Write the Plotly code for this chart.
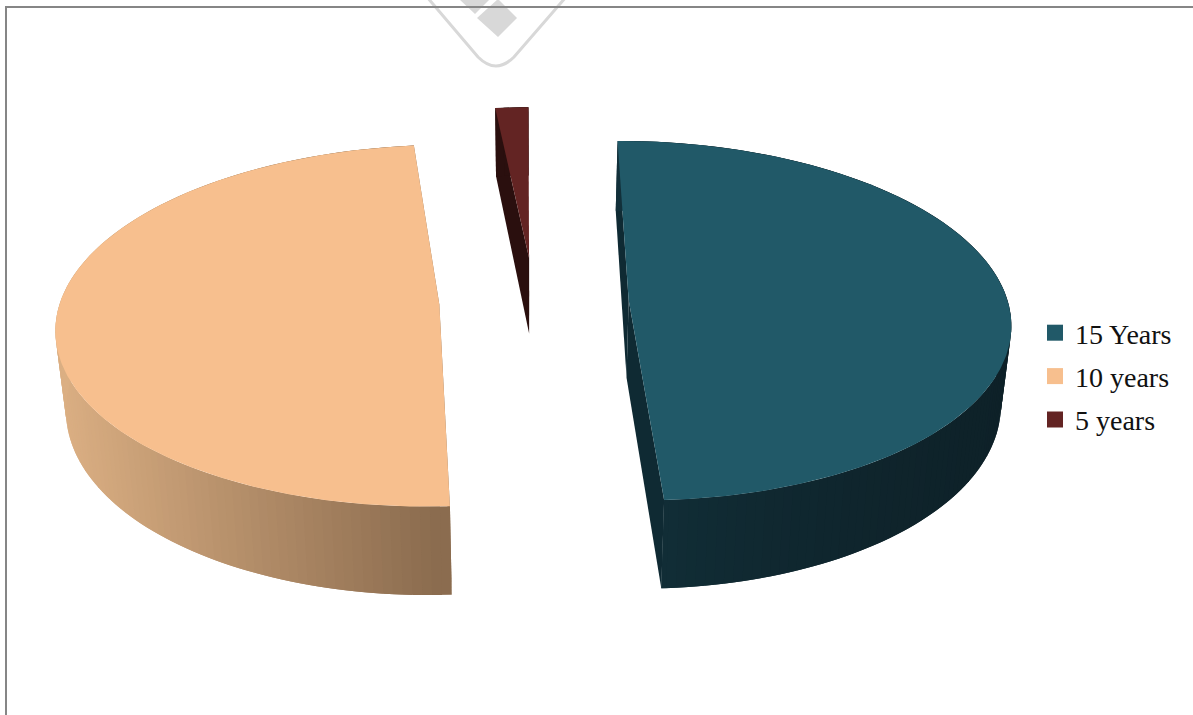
import numpy as np
import plotly.graph_objects as go

# Share of respondents per experience band, in percent
categories = ["15 Years", "10 years", "5 years"]
shares = [49.2, 49.2, 1.6]
colours = ["#215968", "#F7BF8E", "#632423"]
wall_near = ["#12323C", "#8A6B4E", "#2A0F0E"]   # wall shade towards the chart centre
wall_far = ["#0E2128", "#DBAF83", "#2A0F0E"]    # wall shade towards the outer edge
wall_curve = [0.55, 1.0, 1.0]                   # how quickly each wall shade changes
cut_colours = ["#0F2A33", "#8A6B4E", "#2A0F0E"]

FIRST_ANGLE = -0.2      # degrees clockwise from the back of the pie
EXPLODE = 0.25          # slice offset as a fraction of the radius
CX, CY = 534.0, 301.0   # screen position of the pie axis
RX, RY = 379.0, 177.6   # screen radii of the unit circle
THICK = 78.0            # extrusion height on screen
PERSP = 0.1167          # foreshortening with distance from the viewer
DROP = 0.022            # inward shift of the lower face


def project(x, y, z):
    """Map pie coordinates (x right, y back, z 0 top..1 bottom) to screen pixels."""
    s = 1.0 / (1.0 + PERSP * np.asarray(y, dtype=float))
    return CX + RX * np.asarray(x) * s * (1 - DROP * np.asarray(z)), CY - RY * np.asarray(y) * s + THICK * np.asarray(z) * s


def mix(a, b, t):
    ca = [int(a[i:i + 2], 16) for i in (1, 3, 5)]
    cb = [int(b[i:i + 2], 16) for i in (1, 3, 5)]
    return "rgb(%d,%d,%d)" % tuple(round(p + (q - p) * t) for p, q in zip(ca, cb))


def polygon(xs, ys, colour):
    return go.Scatter(
        x=list(xs), y=list(ys), mode="lines", fill="toself", fillcolor=colour,
        line=dict(color=colour, width=0), hoverinfo="skip", showlegend=False,
    )


fig = go.Figure()
start = FIRST_ANGLE
for idx, share in enumerate(shares):
    sweep = share * 3.6
    end = start + sweep
    mid = np.radians(start + sweep / 2)
    ox, oy = EXPLODE * np.sin(mid), EXPLODE * np.cos(mid)
    theta = np.radians(np.linspace(start, end, max(int(sweep * 1.5), 6) + 1))
    rim_x, rim_y = ox + np.sin(theta), oy + np.cos(theta)

    # Cut faces along the two slice edges
    for k in (0, -1):
        px, py = project([ox, rim_x[k], rim_x[k], ox], [oy, rim_y[k], rim_y[k], oy], [0, 0, 1, 1])
        fig.add_trace(polygon(px, py, cut_colours[idx]))

    # Outer wall, shaded in strips; each strip overlaps the next so no seams show
    apex_x = project(ox, oy, 0)[0]
    span = max(abs(project(rim_x, rim_y, 0)[0] - apex_x))
    for a in range(0, len(theta) - 1, 2):
        b = min(a + 4, len(theta) - 1)
        arc_x, arc_y = rim_x[a:b + 1], rim_y[a:b + 1]
        tx, ty = project(arc_x, arc_y, 0)
        bx, by = project(arc_x[::-1], arc_y[::-1], 1)
        t = (abs(tx[:3].mean() - apex_x) / span) ** wall_curve[idx]
        fig.add_trace(polygon(np.r_[tx, bx], np.r_[ty, by], mix(wall_near[idx], wall_far[idx], t)))

    # Top face
    px, py = project(np.r_[ox, rim_x], np.r_[oy, rim_y], 0)
    fig.add_trace(polygon(px, py, colours[idx]))
    start = end

# Legend entries
for name, colour in zip(categories, colours):
    fig.add_trace(go.Scatter(
        x=[None], y=[None], mode="markers", name=name, legendgroup=name,
        marker=dict(symbol="square", size=16, color=colour),
    ))

GREY = "#D8D8D8"
FRAME = "#868686"
shapes = [
    dict(type="path", path="M427,-3 L478,57 Q496,75 514,57 L566,-3",
         line=dict(color=GREY, width=3), layer="below"),
    dict(type="path", path="M498,37 L517,18 L498,-1 L477,18 Z", fillcolor=GREY,
         line=dict(width=0), layer="below"),
    dict(type="path", path="M459,-1 L475,14 L490,-1 Z", fillcolor=GREY,
         line=dict(width=0), layer="below"),
    dict(type="line", x0=6, y0=7, x1=1193, y1=7, line=dict(color=FRAME, width=2), layer="below"),
    dict(type="line", x0=6, y0=6, x1=6, y1=715, line=dict(color=FRAME, width=2), layer="below"),
]

fig.update_layout(
    width=1193, height=715, margin=dict(l=0, r=0, t=0, b=0),
    paper_bgcolor="white", plot_bgcolor="white",
    xaxis=dict(range=[0, 1193], visible=False, fixedrange=True),
    yaxis=dict(range=[715, 0], visible=False, fixedrange=True),
    shapes=shapes,
    legend=dict(
        x=1035 / 1193, y=1 - 308 / 715, xanchor="left", yanchor="top",
        font=dict(family="Liberation Serif", size=28, color="#111111"),
        tracegroupgap=4, bgcolor="rgba(0,0,0,0)", itemclick=False, itemdoubleclick=False,
    ),
    hovermode=False,
)
fig.write_html("out.html", config=dict(displayModeBar=False))
